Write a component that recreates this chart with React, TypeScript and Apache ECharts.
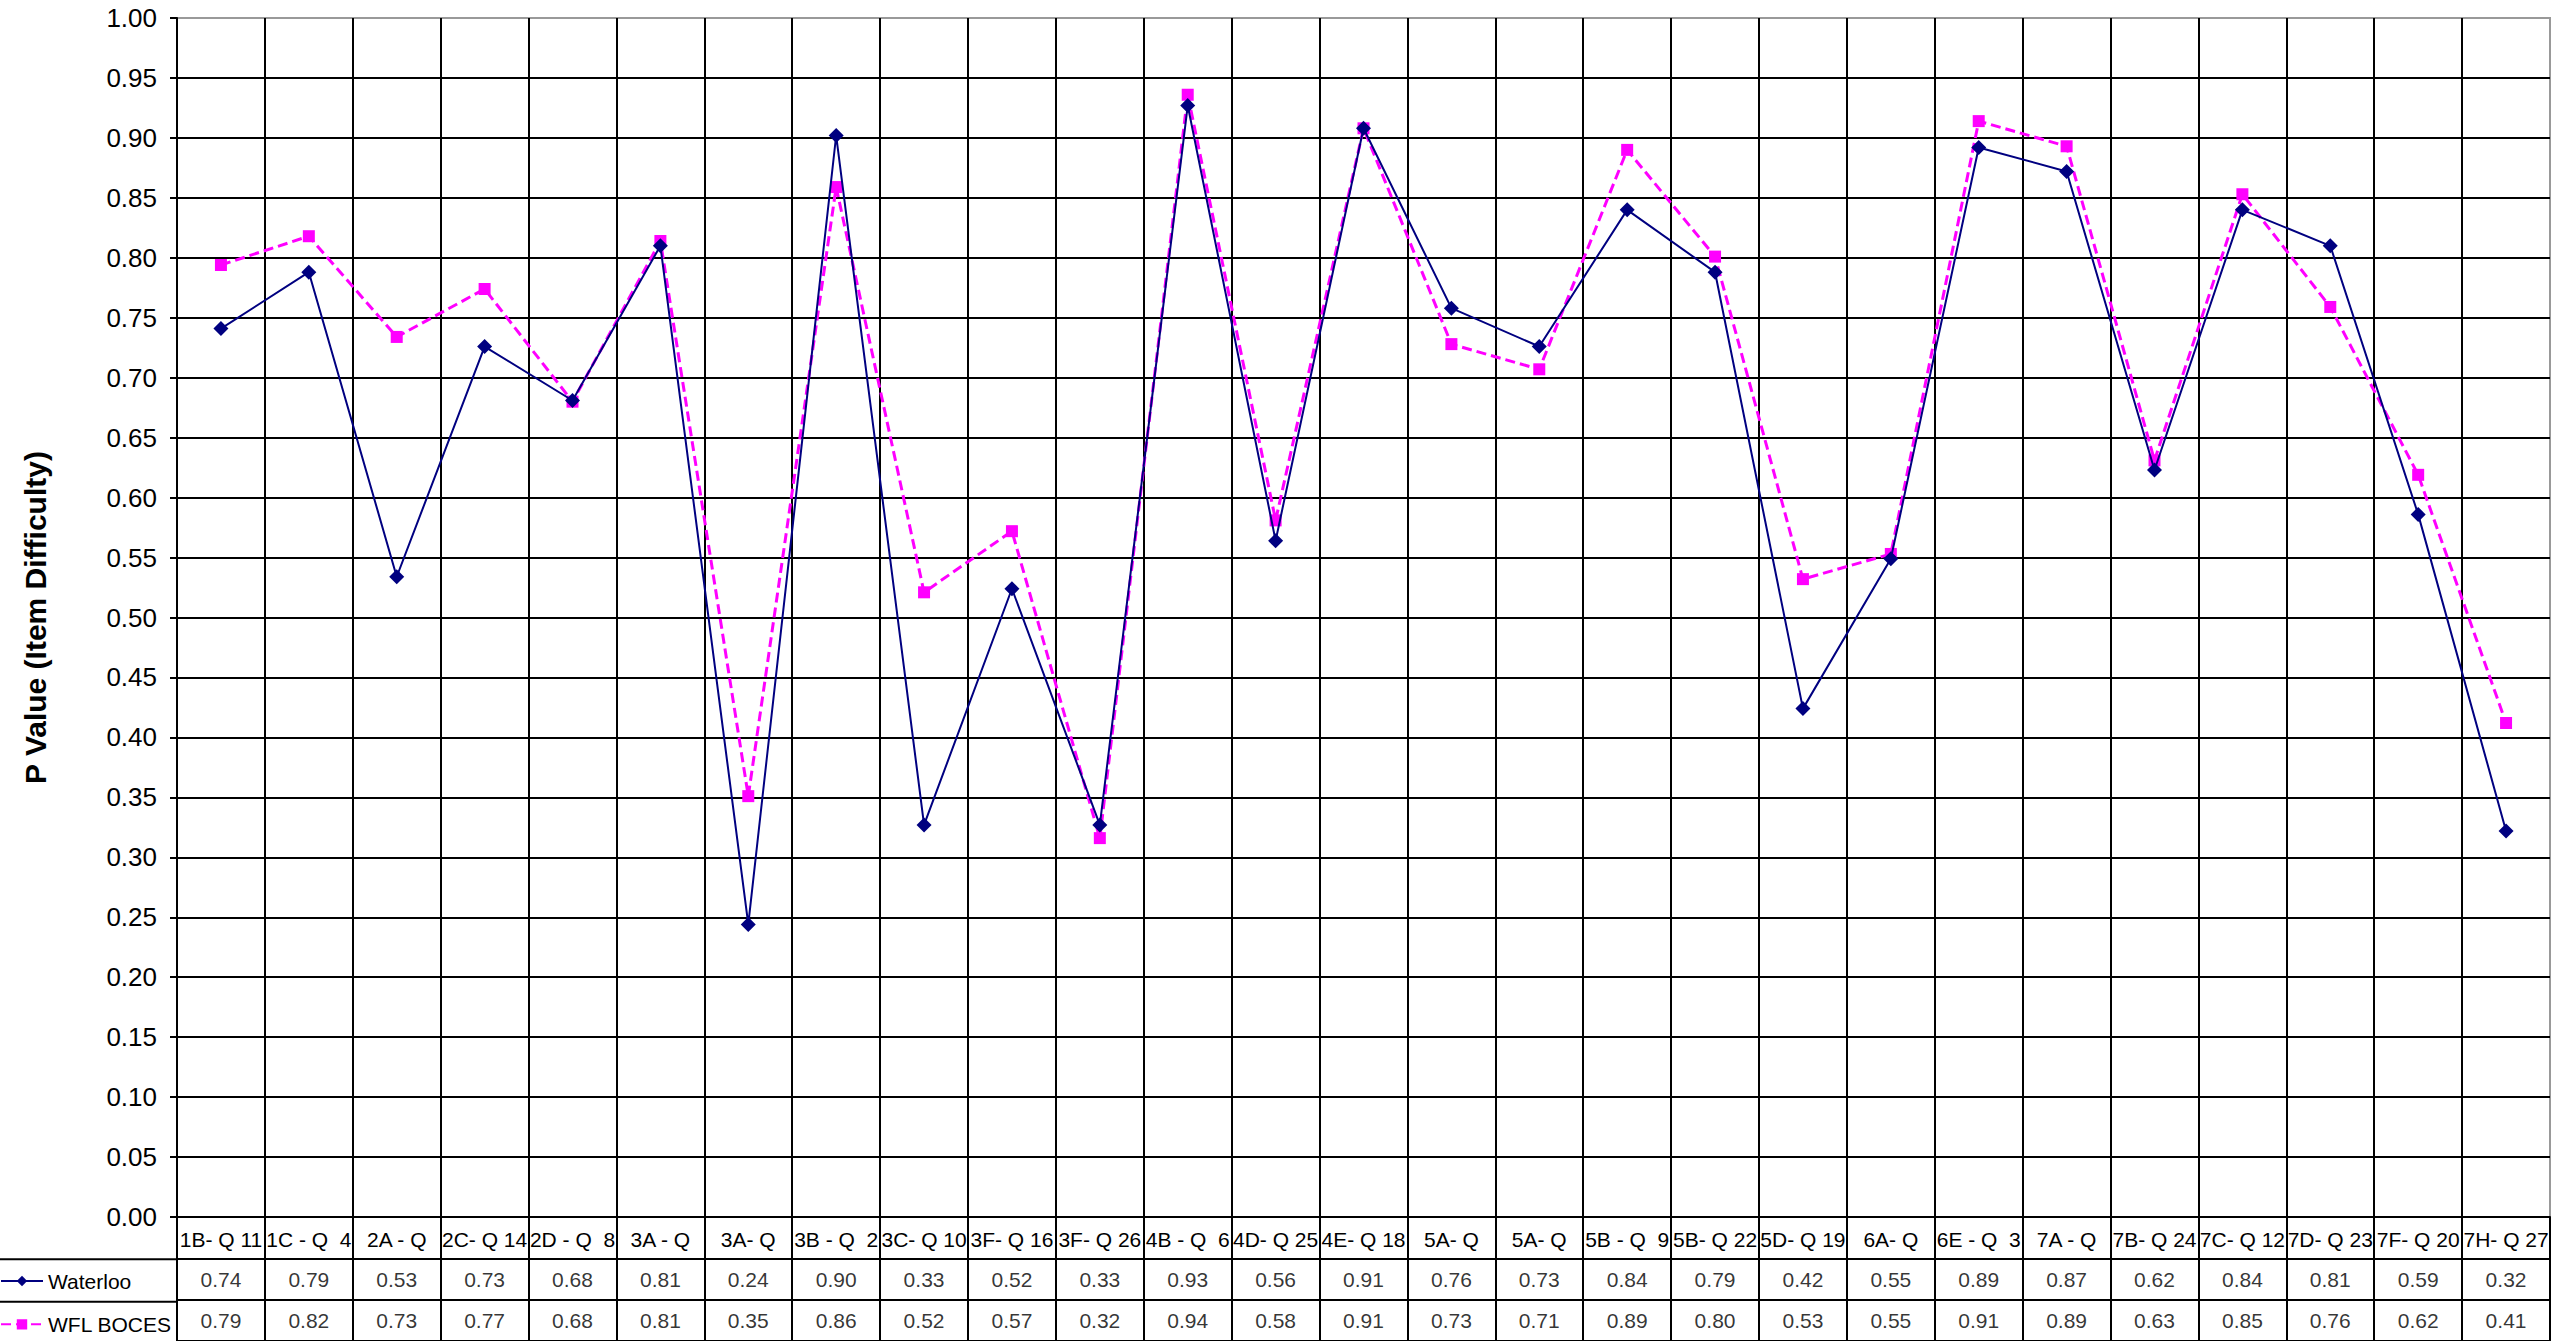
import React, { useEffect, useRef } from "react";
import * as echarts from "echarts";

const categories = [
  "1B- Q 11", "1C - Q  4", "2A - Q", "2C- Q 14", "2D - Q  8", "3A - Q", "3A- Q",
  "3B - Q  2", "3C- Q 10", "3F- Q 16", "3F- Q 26", "4B - Q  6", "4D- Q 25", "4E- Q 18",
  "5A- Q", "5A- Q", "5B - Q  9", "5B- Q 22", "5D- Q 19", "6A- Q", "6E - Q  3", "7A - Q",
  "7B- Q 24", "7C- Q 12", "7D- Q 23", "7F- Q 20", "7H- Q 27",
];

const waterloo = [
  0.741, 0.788, 0.534, 0.726, 0.681, 0.810, 0.244, 0.902, 0.327, 0.524, 0.327, 0.927,
  0.564, 0.908, 0.758, 0.726, 0.840, 0.788, 0.424, 0.549, 0.892, 0.872, 0.623, 0.840,
  0.810, 0.586, 0.322,
];

const wflBoces = [
  0.794, 0.818, 0.734, 0.774, 0.680, 0.814, 0.351, 0.859, 0.521, 0.572, 0.316, 0.936,
  0.581, 0.908, 0.728, 0.707, 0.890, 0.801, 0.532, 0.553, 0.914, 0.893, 0.631, 0.853,
  0.759, 0.619, 0.412,
];

const seriesNames = ["Waterloo", "WFL BOCES"];
const tableRows = ["", "Waterloo", "WFL BOCES"];
const yAxisTitle = "P Value (Item Difficulty)";

const FONT = "'Liberation Sans', Arial, Helvetica, sans-serif";
const W = 2575;
const H = 1341;
const LEFT = 177;
const RIGHT = 25;
const TOP = 18;
const PLOT_BOTTOM = 1217;
const TABLE_H = 127;

export default function App() {
  const ref = useRef<HTMLDivElement>(null);

  useEffect(() => {
    if (!ref.current) return;
    const chart = echarts.init(ref.current, undefined, { renderer: "svg" });
    const rowH = TABLE_H / 3;

    const tableLabel = {
      show: true,
      position: "inside",
      fontSize: 21,
      color: "#000",
      fontFamily: FONT,
      formatter: (p: any) => p.value[2].toFixed(2),
    };

    const option: any = {
      animation: false,
      backgroundColor: "#ffffff",
      textStyle: { fontFamily: FONT },
      grid: [
        {
          left: LEFT,
          right: RIGHT,
          top: TOP,
          height: PLOT_BOTTOM - TOP,
          show: true,
          borderColor: "#999999",
          borderWidth: 2,
        },
        {
          left: LEFT,
          right: RIGHT,
          top: PLOT_BOTTOM,
          height: TABLE_H,
          show: false,
        },
      ],
      legend: {
        data: seriesNames,
        orient: "vertical",
        left: 0,
        top: PLOT_BOTTOM + rowH * 1.5 - 10,
        padding: 0,
        itemWidth: 42,
        itemHeight: 13,
        itemGap: rowH - 20,
        selectedMode: false,
        textStyle: { fontSize: 21, color: "#000", fontFamily: FONT, lineHeight: 20 },
      },
      xAxis: [
        {
          type: "category",
          gridIndex: 0,
          data: categories,
          boundaryGap: true,
          axisLine: { show: true, lineStyle: { color: "#000", width: 2 } },
          axisTick: { show: false },
          axisLabel: {
            interval: 0,
            fontSize: 21,
            color: "#000",
            fontFamily: FONT,
            margin: 12,
          },
          splitLine: {
            show: true,
            showMaxLine: false,
            lineStyle: { color: "#000", width: 2 },
          },
        },
        {
          type: "category",
          gridIndex: 1,
          data: categories,
          boundaryGap: true,
          axisLine: { show: false },
          axisTick: { show: false },
          axisLabel: { show: false },
          splitLine: { show: true, lineStyle: { color: "#000", width: 2 } },
        },
      ],
      yAxis: [
        {
          type: "value",
          gridIndex: 0,
          min: 0,
          max: 1,
          interval: 0.05,
          name: yAxisTitle,
          nameLocation: "middle",
          nameGap: 127,
          nameTextStyle: { fontSize: 30, fontWeight: "bold", color: "#000", fontFamily: FONT },
          axisLine: { show: true, lineStyle: { color: "#000", width: 2 } },
          axisTick: { show: true, length: 7, lineStyle: { color: "#000", width: 2 } },
          axisLabel: {
            fontSize: 26,
            color: "#000",
            fontFamily: FONT,
            margin: 20,
            formatter: (v: number) => v.toFixed(2),
          },
          splitLine: {
            show: true,
            showMaxLine: false,
            lineStyle: { color: "#000", width: 2 },
          },
        },
        {
          type: "category",
          gridIndex: 1,
          data: tableRows,
          inverse: true,
          axisLine: { show: false },
          axisTick: { show: false },
          axisLabel: { show: false },
          splitLine: {
            show: true,
            showMinLine: false,
            lineStyle: { color: "#000", width: 2 },
          },
        },
      ],
      series: [
        {
          name: seriesNames[0],
          type: "line",
          xAxisIndex: 0,
          yAxisIndex: 0,
          data: waterloo,
          color: "#000080",
          symbol: "diamond",
          symbolSize: 15,
          lineStyle: { color: "#000080", width: 2 },
          itemStyle: { color: "#000080" },
          silent: true,
          z: 3,
        },
        {
          name: seriesNames[1],
          type: "line",
          xAxisIndex: 0,
          yAxisIndex: 0,
          data: wflBoces,
          color: "#ff00ff",
          symbol: "rect",
          symbolSize: 12,
          lineStyle: { color: "#ff00ff", width: 3, type: [10, 5] },
          itemStyle: { color: "#ff00ff" },
          silent: true,
          z: 2,
        },
        {
          name: "table-waterloo",
          type: "scatter",
          xAxisIndex: 1,
          yAxisIndex: 1,
          data: waterloo.map((v, i) => [i, 1, v]),
          symbolSize: 1,
          itemStyle: { color: "rgba(0,0,0,0)" },
          silent: true,
          label: tableLabel,
        },
        {
          name: "table-wfl",
          type: "scatter",
          xAxisIndex: 1,
          yAxisIndex: 1,
          data: wflBoces.map((v, i) => [i, 2, v]),
          symbolSize: 1,
          itemStyle: { color: "rgba(0,0,0,0)" },
          silent: true,
          label: tableLabel,
        },
      ],
      graphic: [
        {
          type: "line",
          shape: { x1: 0, y1: PLOT_BOTTOM + rowH, x2: LEFT, y2: PLOT_BOTTOM + rowH },
          style: { stroke: "#000", lineWidth: 2 },
          silent: true,
        },
        {
          type: "line",
          shape: { x1: 0, y1: PLOT_BOTTOM + 2 * rowH, x2: LEFT, y2: PLOT_BOTTOM + 2 * rowH },
          style: { stroke: "#000", lineWidth: 2 },
          silent: true,
        },
      ],
    };

    chart.setOption(option);
    return () => {
      chart.dispose();
    };
  }, []);

  return (
    <div
      ref={ref}
      style={{ position: "fixed", left: 0, top: 0, width: W, height: H, background: "#fff" }}
    />
  );
}
